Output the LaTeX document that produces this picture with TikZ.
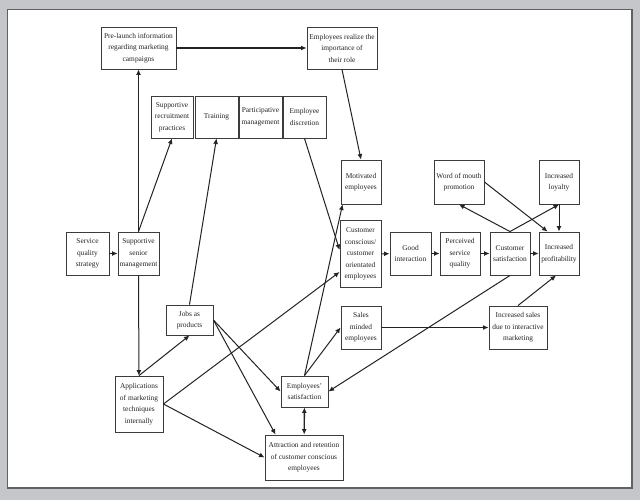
\documentclass[tikz,border=0pt]{standalone}
\usepackage{fontspec}
\setmainfont{Liberation Serif}
\usepackage{tikz}
\usetikzlibrary{arrows.meta,positioning,calc}
\definecolor{FrameGray}{RGB}{196, 198, 202}
\definecolor{FrameLine}{RGB}{95, 97, 100}
\definecolor{InkMain}{RGB}{35, 35, 35}
\definecolor{BoxEdge}{RGB}{60, 60, 60}

\begin{document}
\begin{tikzpicture}[x=1pt, y=-1pt,
        box/.style={draw=BoxEdge, fill=white, align=center, font=\fontsize{7.4}{11.5}\selectfont, text=InkMain, inner sep=1pt, line width=0.9pt},
        arr/.style={-{Latex[length=5.5pt, width=5pt]}, line width=1pt, color=InkMain},
        thickarr/.style={arr, line width=1.8pt}]

        % frame
        \useasboundingbox (0,0) rectangle (640,500);
        \fill[FrameGray] (0,0) rectangle (640,500);
        \filldraw[fill=white, draw=FrameLine, line width=1.4pt] (7.5,9.5) rectangle (632,488);

        % top row
        \node[box, minimum width=75pt, minimum height=42pt] (prelaunch) at (138.5,48) {Pre-launch information\\regarding marketing\\campaigns};
        \node[box, minimum width=70pt, minimum height=42pt] (realize) at (342,48) {Employees realize the\\importance of\\their role};

        \node[box, minimum width=42pt, minimum height=42pt] (recruit) at (172,117) {Supportive\\recruitment\\practices};
        \node[box, minimum width=43pt, minimum height=42pt] (training) at (216.5,117) {Training};
        \node[box, minimum width=43pt, minimum height=42pt] (particip) at (260.5,117) {Participative\\management};
        \node[box, minimum width=43pt, minimum height=42pt] (discretion) at (304.5,117) {Employee\\discretion};

        % right part
        \node[box, minimum width=40pt, minimum height=44pt] (motivated) at (361,182) {Motivated\\employees};
        \node[box, minimum width=50pt, minimum height=44pt] (wom) at (459,182) {Word of mouth\\promotion};
        \node[box, minimum width=40pt, minimum height=44pt] (loyalty) at (559,182) {Increased\\loyalty};

        \node[box, minimum width=41pt, minimum height=67pt] (conscious) at (360.5,254) {Customer\\conscious/\\customer\\orientated\\employees};
        \node[box, minimum width=41pt, minimum height=43pt] (interaction) at (410.5,253.5) {Good\\interaction};
        \node[box, minimum width=40pt, minimum height=43pt] (perceived) at (460,253.5) {Perceived\\service\\quality};
        \node[box, minimum width=40pt, minimum height=43pt] (custsat) at (510,253.5) {Customer\\satisfaction};
        \node[box, minimum width=40pt, minimum height=43pt] (profit) at (559,253.5) {Increased\\profitability};

        % left part
        \node[box, minimum width=43pt, minimum height=43pt] (strategy) at (87.5,253.5) {Service\\quality\\strategy};
        \node[box, minimum width=41pt, minimum height=43pt] (senior) at (138.5,253.5) {Supportive\\senior\\management};
        \node[box, minimum width=47pt, minimum height=30pt] (jobs) at (189.5,320) {Jobs as\\products};
        \node[box, minimum width=48pt, minimum height=56pt] (applications) at (139,404) {Applications\\of marketing\\techniques\\internally};

        % lower middle
        \node[box, minimum width=40pt, minimum height=43pt] (salesminded) at (361,327.5) {Sales\\minded\\employees};
        \node[box, minimum width=58pt, minimum height=43pt] (incsales) at (518,327.5) {Increased sales\\due to interactive\\marketing};
        \node[box, minimum width=47pt, minimum height=31pt] (empsat) at (304.5,391.5) {Employees'\\satisfaction};
        \node[box, minimum width=78pt, minimum height=45pt] (attraction) at (304,457.5) {Attraction and retention\\of customer conscious\\employees};

        % connectors
        \draw[arr] (strategy) -- (senior);
        \draw[arr] (senior.north) -- (prelaunch.south);
        \draw[arr] (senior.north) -- (recruit.south);
        \draw[arr] (senior) -- (applications);
        \draw[thickarr] (prelaunch) -- (realize);
        \draw[arr] (realize.south) -- (motivated.north);
        \draw[arr] (discretion.south) -- ([yshift=4pt]conscious.west);
        \draw[arr] (jobs.north) -- (training.south);
        \draw[arr] (applications.north) -- (jobs.south);
        \draw[arr] (applications.east) -- ([yshift=-18pt]conscious.west);
        \draw[arr] (applications.east) -- (attraction.west);
        \draw[arr] (jobs.east) -- (empsat.west);
        \draw[arr] (jobs.east) -- ([xshift=11pt]attraction.north west);
        \draw[arr] (empsat.north) -- ([xshift=2pt]motivated.south west);
        \draw[arr] (empsat.north) -- (salesminded.west);
        \draw[arr, {Latex[length=5.5pt, width=5pt]}-{Latex[length=5.5pt, width=5pt]}, line width=1.4pt] (empsat) -- (attraction);
        \draw[arr] (custsat.south) -- (empsat.east);
        \draw[thickarr] (salesminded) -- (incsales);
        \draw[arr] (incsales.north) -- ([xshift=-3pt]profit.south);
        \draw[arr] (conscious) -- (interaction);
        \draw[arr] (interaction) -- (perceived);
        \draw[arr] (perceived) -- (custsat);
        \draw[arr] (custsat) -- (profit);
        \draw[arr] (custsat.north) -- (wom.south);
        \draw[arr] (custsat.north) -- (loyalty.south);
        \draw[arr] (wom.east) -- ([xshift=9pt]profit.north west);
        \draw[arr] (loyalty) -- (profit);
\end{tikzpicture}
\end{document}
